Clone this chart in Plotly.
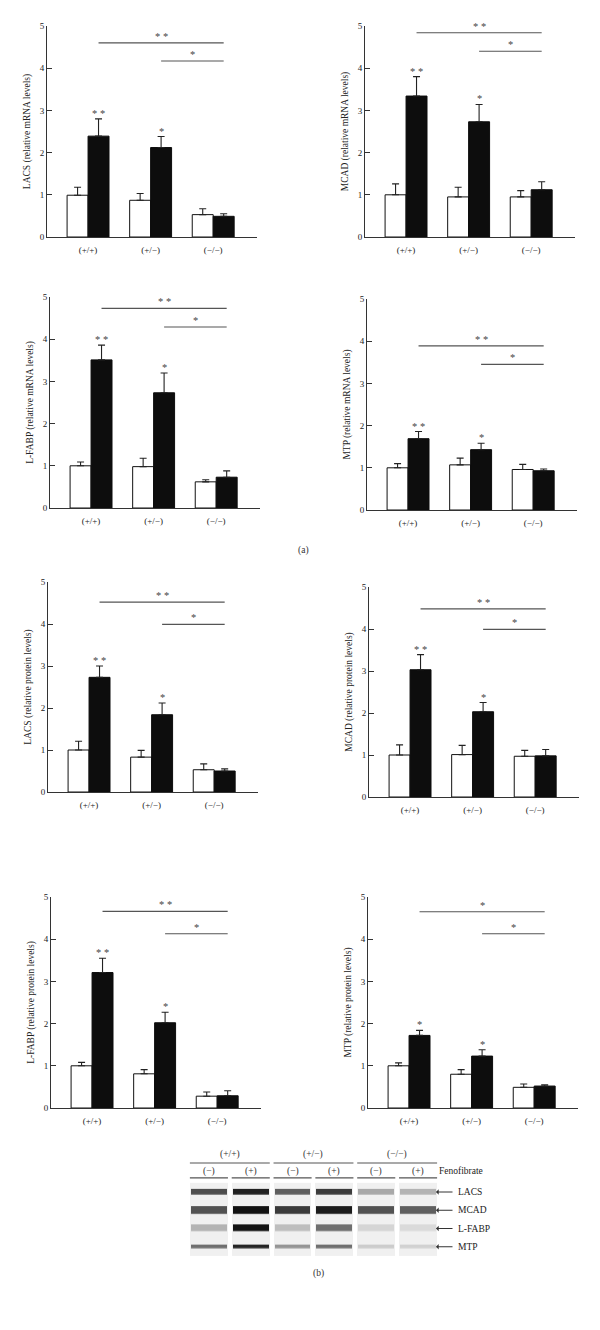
import plotly.graph_objects as go

# page is rendered inside a body with the browser's default 8px margin
PAGE_W, PAGE_H = 600, 1330
BODY_MARGIN = 8
W, H = PAGE_W - 2 * BODY_MARGIN, PAGE_H - 2 * BODY_MARGIN
FONT = "Liberation Serif"

# ---------------- data ----------------
genotypes = ["(+/+)", "(+/−)", "(−/−)"]

# (a) mRNA levels: control (white) and fenofibrate (black), upper SEM
lacs_mrna_ctrl = [0.99, 0.87, 0.53]
lacs_mrna_ctrl_err = [0.19, 0.16, 0.14]
lacs_mrna_feno = [2.39, 2.12, 0.49]
lacs_mrna_feno_err = [0.41, 0.26, 0.06]

mcad_mrna_ctrl = [1.00, 0.95, 0.95]
mcad_mrna_ctrl_err = [0.26, 0.23, 0.15]
mcad_mrna_feno = [3.34, 2.73, 1.12]
mcad_mrna_feno_err = [0.46, 0.41, 0.19]

lfabp_mrna_ctrl = [1.00, 0.98, 0.62]
lfabp_mrna_ctrl_err = [0.09, 0.20, 0.05]
lfabp_mrna_feno = [3.51, 2.73, 0.73]
lfabp_mrna_feno_err = [0.35, 0.47, 0.15]

mtp_mrna_ctrl = [1.00, 1.07, 0.96]
mtp_mrna_ctrl_err = [0.10, 0.16, 0.12]
mtp_mrna_feno = [1.69, 1.43, 0.93]
mtp_mrna_feno_err = [0.17, 0.15, 0.04]

# (b) protein levels
lacs_prot_ctrl = [1.00, 0.83, 0.53]
lacs_prot_ctrl_err = [0.21, 0.16, 0.14]
lacs_prot_feno = [2.73, 1.84, 0.50]
lacs_prot_feno_err = [0.27, 0.28, 0.05]

mcad_prot_ctrl = [1.00, 1.01, 0.97]
mcad_prot_ctrl_err = [0.24, 0.22, 0.14]
mcad_prot_feno = [3.03, 2.03, 0.98]
mcad_prot_feno_err = [0.36, 0.22, 0.15]

lfabp_prot_ctrl = [1.00, 0.81, 0.28]
lfabp_prot_ctrl_err = [0.08, 0.10, 0.10]
lfabp_prot_feno = [3.21, 2.02, 0.29]
lfabp_prot_feno_err = [0.34, 0.25, 0.12]

mtp_prot_ctrl = [1.00, 0.80, 0.49]
mtp_prot_ctrl_err = [0.07, 0.11, 0.08]
mtp_prot_feno = [1.72, 1.23, 0.52]
mtp_prot_feno_err = [0.12, 0.15, 0.03]

# significance marks over fenofibrate bars, and comparison bars vs (-/-)
bar_stars_std = ["* *", "*", ""]
bar_stars_mtp_prot = ["*", "*", ""]
sig_from_groups = [0, 1]
sig_labels_std = ["* *", "*"]
sig_labels_mtp_prot = ["*", "*"]
sig_levels_lacs_mrna = [4.60, 4.17]
sig_levels_mcad_mrna = [4.84, 4.40]
sig_levels_lfabp_mrna = [4.73, 4.29]
sig_levels_mtp_mrna = [3.89, 3.45]
sig_levels_lacs_prot = [4.52, 3.99]
sig_levels_mcad_prot = [4.48, 3.99]
sig_levels_lfabp_prot = [4.66, 4.13]
sig_levels_mtp_prot = [4.65, 4.13]

y_titles = [
    "LACS (relative mRNA levels)", "MCAD (relative mRNA levels)",
    "L-FABP (relative mRNA levels)", "MTP (relative mRNA levels)",
    "LACS (relative protein levels)", "MCAD (relative protein levels)",
    "L-FABP (relative protein levels)", "MTP (relative protein levels)",
]
y_ticks = [0, 1, 2, 3, 4, 5]

# Western blot band intensities (0 = none, 1 = darkest)
blot_proteins = ["LACS", "MCAD", "L-FABP", "MTP"]
blot_lanes = ["(−)", "(+)", "(−)", "(+)", "(−)", "(+)"]
blot_groups = ["(+/+)", "(+/−)", "(−/−)"]
band_lacs = [0.70, 0.90, 0.62, 0.78, 0.30, 0.25]
band_mcad = [0.68, 0.97, 0.78, 0.92, 0.68, 0.62]
band_lfabp = [0.25, 0.96, 0.20, 0.55, 0.10, 0.08]
band_mtp = [0.55, 0.88, 0.38, 0.55, 0.14, 0.12]

# ---------------- layout helpers ----------------
panels = [
    (lacs_mrna_ctrl, lacs_mrna_ctrl_err, lacs_mrna_feno, lacs_mrna_feno_err, sig_levels_lacs_mrna, sig_labels_std, bar_stars_std),
    (mcad_mrna_ctrl, mcad_mrna_ctrl_err, mcad_mrna_feno, mcad_mrna_feno_err, sig_levels_mcad_mrna, sig_labels_std, bar_stars_std),
    (lfabp_mrna_ctrl, lfabp_mrna_ctrl_err, lfabp_mrna_feno, lfabp_mrna_feno_err, sig_levels_lfabp_mrna, sig_labels_std, bar_stars_std),
    (mtp_mrna_ctrl, mtp_mrna_ctrl_err, mtp_mrna_feno, mtp_mrna_feno_err, sig_levels_mtp_mrna, sig_labels_std, bar_stars_std),
    (lacs_prot_ctrl, lacs_prot_ctrl_err, lacs_prot_feno, lacs_prot_feno_err, sig_levels_lacs_prot, sig_labels_std, bar_stars_std),
    (mcad_prot_ctrl, mcad_prot_ctrl_err, mcad_prot_feno, mcad_prot_feno_err, sig_levels_mcad_prot, sig_labels_std, bar_stars_std),
    (lfabp_prot_ctrl, lfabp_prot_ctrl_err, lfabp_prot_feno, lfabp_prot_feno_err, sig_levels_lfabp_prot, sig_labels_std, bar_stars_std),
    (mtp_prot_ctrl, mtp_prot_ctrl_err, mtp_prot_feno, mtp_prot_feno_err, sig_levels_mtp_prot, sig_labels_mtp_prot, bar_stars_mtp_prot),
]

# panel boxes in page pixels: (left x of y-axis, top y (value 5), bottom y (value 0))
boxes = [
    (47, 26, 237), (365, 26, 237),
    (50, 297, 508), (367, 299, 510),
    (48, 582, 792), (369, 587, 797),
    (51, 897, 1108), (368, 897, 1108),
]
PANEL_W = 210
XR = [-0.656, 2.70]
BARGAP = 0.33
OFF = (1 - BARGAP) / 4  # centre offset of each bar within a group


def px_x(x):
    return (x - BODY_MARGIN) / W


def px_y(y):
    return 1 - (y - BODY_MARGIN) / H


fig = go.Figure()
annotations = []
lay = {}
idx = list(range(len(genotypes)))
STAR_FONT = dict(family=FONT, size=10.5, color="#444")

for k, (ctrl, ctrl_e, feno, feno_e, sig_lv, sig_lb, stars) in enumerate(panels):
    n = k + 1
    xa = "x" if n == 1 else f"x{n}"
    ya = "y" if n == 1 else f"y{n}"
    fig.add_trace(go.Bar(
        x=idx, y=ctrl, xaxis=xa, yaxis=ya, name="Control",
        marker=dict(color="white", line=dict(color="#111", width=1)),
        error_y=dict(type="data", symmetric=False, array=ctrl_e, arrayminus=[0] * 3,
                     color="#222", thickness=1.1, width=3.5),
        showlegend=False,
    ))
    fig.add_trace(go.Bar(
        x=idx, y=feno, xaxis=xa, yaxis=ya, name="Fenofibrate",
        marker=dict(color="#0d0d0d", line=dict(color="#0d0d0d", width=1)),
        error_y=dict(type="data", symmetric=False, array=feno_e, arrayminus=[0] * 3,
                     color="#222", thickness=1.1, width=3.5),
        showlegend=False,
    ))
    # significance comparison lines vs (-/-) fenofibrate
    for g, lv, lb in zip(sig_from_groups, sig_lv, sig_lb):
        x0 = g + OFF
        x1 = idx[-1] + OFF
        fig.add_trace(go.Scatter(
            x=[x0, x1], y=[lv, lv], xaxis=xa, yaxis=ya, mode="lines",
            line=dict(color="#555", width=1.1), showlegend=False, hoverinfo="skip",
        ))
        annotations.append(dict(
            x=(x0 + x1) / 2, y=lv, xref=xa, yref=ya, text=lb, showarrow=False,
            yanchor="bottom", yshift=-1, font=STAR_FONT,
        ))
    # stars above fenofibrate bars
    for i, s in enumerate(stars):
        if s:
            annotations.append(dict(
                x=i + OFF, y=feno[i] + feno_e[i], xref=xa, yref=ya, text=s,
                showarrow=False, yanchor="bottom", yshift=-2, font=STAR_FONT,
            ))
    lx, ty, by = boxes[k]
    lay["xaxis" if n == 1 else f"xaxis{n}"] = dict(
        domain=[px_x(lx), px_x(lx + PANEL_W)], range=XR, anchor=ya,
        tickmode="array", tickvals=idx, ticktext=genotypes,
        showline=True, linecolor="#333", linewidth=1, ticks="outside", ticklen=4,
        tickcolor="rgba(0,0,0,0)", showgrid=False, zeroline=False,
        tickfont=dict(family=FONT, size=9, color="#222"), fixedrange=True,
    )
    lay["yaxis" if n == 1 else f"yaxis{n}"] = dict(
        domain=[px_y(by), px_y(ty)], range=[0, 5], anchor=xa,
        tickmode="array", tickvals=y_ticks,
        showline=True, linecolor="#333", linewidth=1, ticks="inside", ticklen=5,
        tickcolor="#333", showgrid=False, zeroline=False,
        tickfont=dict(family=FONT, size=9, color="#222"),
        title=dict(text=y_titles[k], font=dict(family=FONT, size=9.5, color="#222"), standoff=7),
        automargin=False, fixedrange=True,
    )

# ---------------- western blot ----------------
lane_idx = list(range(len(blot_lanes)))
row_idx = list(range(len(blot_proteins)))
band_rows = [band_lacs, band_mcad, band_lfabp, band_mtp]
ROW_PX = 18.25
band_thickness_px = [6, 8, 7, 4]

fig.add_trace(go.Heatmap(
    x=lane_idx, y=row_idx, z=[[1] * len(lane_idx) for _ in row_idx],
    xaxis="x9", yaxis="y9", colorscale=[[0, "#f0f0f0"], [1, "#f0f0f0"]],
    showscale=False, xgap=4, ygap=0, hoverinfo="skip",
))
for ri, row in enumerate(band_rows):
    fig.add_trace(go.Heatmap(
        x=lane_idx, y=[ri], z=[row],
        xaxis="x9", yaxis="y9", zmin=0, zmax=1,
        colorscale=[[0, "#ececec"], [0.5, "#7a7a7a"], [1, "#0a0a0a"]],
        showscale=False, xgap=6, ygap=ROW_PX - band_thickness_px[ri], hoverinfo="skip",
    ))

# blot subplot: lanes 41.83 px apart starting at x=188; rows 18.25 px apart, row 0 at y=1192
LANE_PX, X0_PX = 41.83, 188.0
ROW0_PX = 1192.0
Y9_RANGE = [4.8, -2.4]  # rows (reversed), includes header and caption area
lay["xaxis9"] = dict(domain=[px_x(X0_PX), px_x(X0_PX + 6 * LANE_PX)], range=[-0.5, 5.5],
                     anchor="y9", visible=False, fixedrange=True)
lay["yaxis9"] = dict(domain=[px_y(ROW0_PX + ROW_PX * Y9_RANGE[0]),
                             px_y(ROW0_PX + ROW_PX * Y9_RANGE[1])],
                     range=Y9_RANGE, anchor="x9", visible=False, fixedrange=True)

# header rows (in blot row units)
R_GROUP_LABEL, R_GROUP_LINE, R_LANE_LABEL, R_LANE_LINE, R_CAPTION = -2.03, -1.59, -1.15, -0.77, 4.49

shapes = []
HALF = 0.455
for gi, gname in enumerate(blot_groups):
    a, b = 2 * gi, 2 * gi + 1
    shapes.append(dict(type="line", xref="x9", yref="y9", x0=a - HALF, x1=b + HALF,
                       y0=R_GROUP_LINE, y1=R_GROUP_LINE, line=dict(color="#555", width=1.2)))
    annotations.append(dict(x=(a + b) / 2, y=R_GROUP_LABEL, xref="x9", yref="y9", text=gname,
                            showarrow=False, font=dict(family=FONT, size=9.5, color="#333")))
for li, lname in enumerate(blot_lanes):
    shapes.append(dict(type="line", xref="x9", yref="y9", x0=li - HALF, x1=li + HALF,
                       y0=R_LANE_LINE, y1=R_LANE_LINE, line=dict(color="#555", width=1.2)))
    annotations.append(dict(x=li, y=R_LANE_LABEL, xref="x9", yref="y9", text=lname,
                            showarrow=False, font=dict(family=FONT, size=9.5, color="#333")))
annotations.append(dict(x=px_x(437), y=R_LANE_LABEL, xref="paper", yref="y9", text="Fenofibrate",
                        showarrow=False, xanchor="left", font=dict(family=FONT, size=9.5, color="#222")))
for ri, pname in enumerate(blot_proteins):
    annotations.append(dict(x=px_x(436), y=ri, xref="paper", yref="y9", text="",
                            showarrow=True, ax=18, ay=0, arrowhead=1, arrowsize=0.9,
                            arrowwidth=1, arrowcolor="#333"))
    annotations.append(dict(x=px_x(456), y=ri, xref="paper", yref="y9", text=pname,
                            showarrow=False, xanchor="left",
                            font=dict(family=FONT, size=9.5, color="#222")))
annotations.append(dict(x=px_x(318), y=R_CAPTION, xref="paper", yref="y9", text="(b)",
                        showarrow=False, font=dict(family=FONT, size=9.5, color="#333")))

# panel letter (a)
annotations.append(dict(x=px_x(303), y=px_y(551), xref="paper", yref="paper", text="(a)",
                        showarrow=False, font=dict(family=FONT, size=9.5, color="#333")))

fig.update_layout(
    width=W, height=H, margin=dict(l=0, r=0, t=0, b=0),
    paper_bgcolor="white", plot_bgcolor="white",
    barmode="group", bargap=BARGAP, bargroupgap=0,
    showlegend=False, annotations=annotations, shapes=shapes,
    font=dict(family=FONT, color="#222"),
    **lay,
)

fig.write_html("out.html")
